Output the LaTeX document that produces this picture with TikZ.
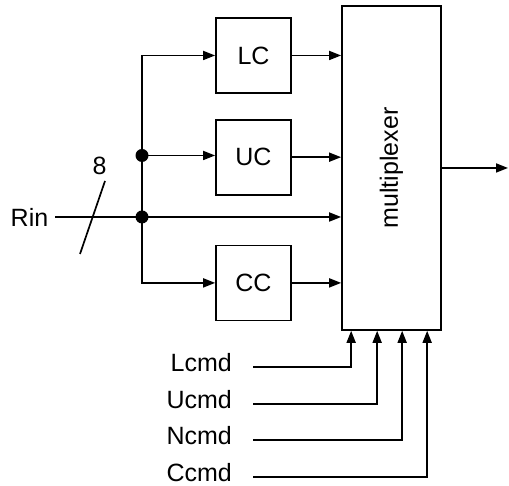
\documentclass[tikz,border=0pt]{standalone}
\usepackage{fontspec}
\setmainfont{Liberation Sans}
\usetikzlibrary{arrows.meta,positioning}
\tikzset{
  block/.style={draw=black, align=center, minimum height=75pt, minimum width=75pt, line width=1.7pt, font=\fontsize{25}{29}\selectfont},
  arrow/.style={-{Triangle[length=12pt,width=9pt]}, line width=1.7pt, black},
  wire/.style={line width=1.7pt, black},
  dot/.style={circle, fill=black, inner sep=0pt, minimum size=13pt},
  sig/.style={inner sep=0pt, font=\fontsize{25}{29}\selectfont}
}

\begin{document}
\begin{tikzpicture}[x=1pt, y=1pt]
    \useasboundingbox (0,0) rectangle (509,486);

    \node[block, minimum width=99pt, minimum height=324pt,
          label={[sig, rotate=90]center:multiplexer}] (mux) at (391.5,318) {};
    \node[block] (lc) at (253.5,430.5) {LC};
    \node[block, below=25pt of lc] (uc) {UC};
    \node[block, below=49pt of uc] (cc) {CC};

    \node[sig] (rin) at (29.5,269) {Rin};
    \node[sig] (width) at (99.5,320) {8};
    \coordinate (j1) at (142,330.5);
    \coordinate (j2) at (142,269);
    \coordinate (tick) at (92.5,269);
    \coordinate (out) at (508,318);

    \node[sig, anchor=east] (lcmd) at (232,123) {Lcmd};
    \node[sig, anchor=east] (ucmd) at (232,86) {Ucmd};
    \node[sig, anchor=east] (ncmd) at (232,50) {Ncmd};
    \node[sig, anchor=east] (ccmd) at (232,13) {Ccmd};

    % input bus
    \draw[arrow, shorten <=7pt] (rin.east) -- (rin -| mux.west);
    \draw[wire] ([shift={(-12.5,-37)}]tick) -- ([shift={(12.5,36)}]tick);
    \draw[arrow] (j1) |- (lc.west);
    \draw[arrow] (j1) -- (j1 -| uc.west);
    \draw[arrow] (j2) |- (cc.west);
    \draw[wire] (j1) -- (j2);
    \node[dot] at (j1) {};
    \node[dot] at (j2) {};

    \draw[arrow] (lc.east) -- (lc.east -| mux.west);
    \draw[arrow] (uc.east) -- (uc.east -| mux.west);
    \draw[arrow] (cc.east) -- (cc.east -| mux.west);
    \draw[arrow] (mux.east) -- (out);

    % select lines
    \draw[arrow, shorten <=21pt] ([yshift=-4pt]lcmd.east) -| ([xshift=10pt]mux.south west);
    \draw[arrow, shorten <=21pt] ([yshift=-4pt]ucmd.east) -| ([xshift=36pt]mux.south west);
    \draw[arrow, shorten <=21pt] ([yshift=-4pt]ncmd.east) -| ([xshift=61pt]mux.south west);
    \draw[arrow, shorten <=21pt] ([yshift=-4pt]ccmd.east) -| ([xshift=86pt]mux.south west);
  \end{tikzpicture}
\end{document}
